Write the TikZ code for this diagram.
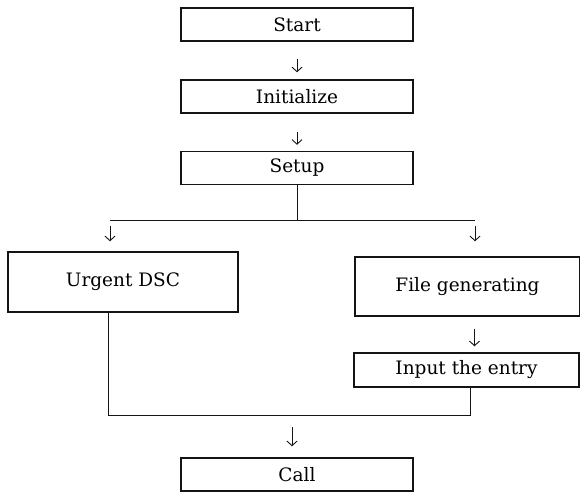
\documentclass[tikz,border=0pt]{standalone}
\usepackage{fontspec}
\setmainfont{DejaVu Serif}
\usepackage{xcolor}
\usetikzlibrary{arrows.meta,positioning}
\definecolor{inkblack}{RGB}{20,20,20}

\begin{document}
\begin{tikzpicture}[
  x=1pt, y=-1pt,
  box/.style={
    draw=inkblack,
    line width=1.5pt,
    minimum width=232pt,
    minimum height=33pt,
    inner sep=0pt,
    align=center,
    font=\fontsize{18.5}{22}\selectfont
  },
  line/.style={draw=inkblack, line width=0.9pt},
  arr/.style={-{Straight Barb[length=4.5pt, width=10pt]}, draw=inkblack, line width=0.9pt}
]
\useasboundingbox (0,0) rectangle (580,493);

% Main column
\node[box] (start) at (297,24.5) {Start};
\node[box] (init) at (297,96.5) {Initialize};
\node[box] (setup) at (297,168) {Setup};

\draw[arr, shorten <=17pt, shorten >=7pt] (start) -- (init);
\draw[arr, shorten <=18pt, shorten >=6pt] (init) -- (setup);

% Branch
\coordinate (bl) at (110,220);
\coordinate (br) at (475,220);
\draw[line] (setup.south) -- (setup.south |- bl);
\draw[line] (bl) -- (br);

\node[box, minimum width=230pt, minimum height=60pt] (urgent) at (123,282) {Urgent DSC};
\node[box, minimum width=225pt, minimum height=59pt] (filegen) at (467.5,286.5) {File generating};
\node[box, minimum width=225pt, minimum height=34pt] (entry) at (466.5,370) {Input the entry};

\draw[arr, shorten <=6pt, shorten >=10pt] (bl) -- (bl |- urgent.north);
\draw[arr, shorten <=6pt, shorten >=15pt] (br) -- (br |- filegen.north);
\draw[arr, shorten <=12pt, shorten >=6pt] ([xshift=7pt]filegen.south) -- ([xshift=7pt]filegen.south |- entry.north);

% Join
\coordinate (jl) at (108,415);
\coordinate (jr) at (470,415);
\coordinate (jm) at (292,415);
\draw[line] (urgent.south -| jl) -- (jl) -- (jr) -- (jr |- entry.south);

\node[box] (call) at (297,474.5) {Call};
\draw[arr, shorten <=12pt, shorten >=11pt] (jm) -- (jm |- call.north);

\end{tikzpicture}
\end{document}
